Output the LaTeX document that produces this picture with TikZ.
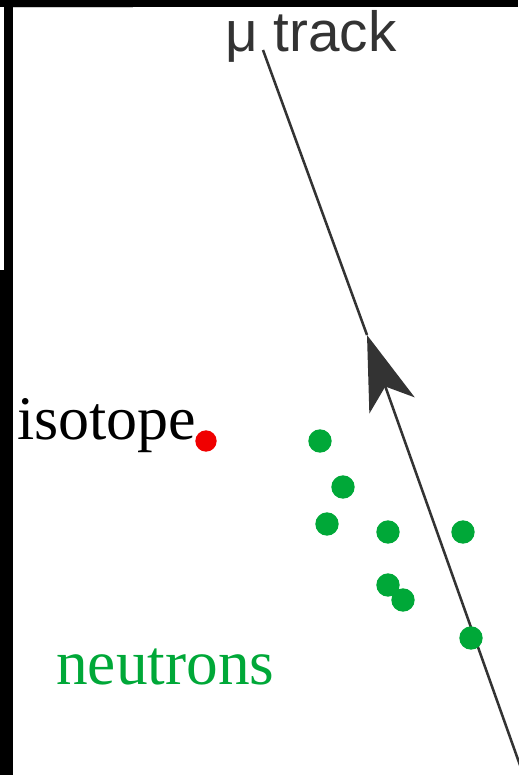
\documentclass[tikz,border=0pt]{standalone}
\usepackage{fontspec}
\setmainfont{Liberation Serif}
\newfontfamily\labsans{Liberation Sans}
\usetikzlibrary{arrows.meta}
\definecolor{dotgreen}{RGB}{0,168,56}
\definecolor{trackgray}{RGB}{51,51,51}
\definecolor{dotred}{RGB}{240,0,0}
\tikzset{
  ndot/.style={circle,fill=dotgreen,inner sep=0pt,minimum size=17.5,draw=none},
  idot/.style={circle,fill=dotred,inner sep=0pt,minimum size=16,draw=none},
  trackline/.style={draw=trackgray,line width=1.9},
  bar/.style={fill=black,draw=none}
}
\begin{document}
\begin{tikzpicture}[x=0.75pt,y=-0.75pt]
\useasboundingbox (0,0) rectangle (518,775);
% frame bars
\fill[bar] (0,0) rectangle (518,7);
\fill[bar] (4,0) rectangle (13,270);
\fill[bar] (0,270) rectangle (13,775);
\draw[gray!40,line width=0.8] (13,7.5) -- (133,7.5);
% track
\coordinate (top) at (263,50);
\coordinate (tip) at (367,335);
\coordinate (bot) at (521,768);
\draw[trackline] (tip) -- (top);
\draw[trackline,-{Stealth[length=56,width=36,inset=15]}] (bot) -- (tip);
\node[anchor=base west,text=trackgray,font=\labsans\fontsize{42.5pt}{42.5pt}\selectfont,inner sep=0pt] (mu) at (225,51) {μ track};
% isotope
\node[anchor=base west,font=\fontsize{46.5pt}{46.5pt}\selectfont,inner sep=0pt] (iso) at (17,439) {isotope};
\node[idot] (red) at (206,441) {};
% neutrons
\node[anchor=base west,text=dotgreen,font=\fontsize{47.5pt}{47.5pt}\selectfont,inner sep=0pt] (neu) at (56,684) {neutrons};
\node[ndot] (n1) at (320,441) {};
\node[ndot] (n2) at (343,487) {};
\node[ndot] (n3) at (327,524) {};
\node[ndot] (n4) at (388,532) {};
\node[ndot] (n5) at (463,532) {};
\node[ndot] (n6) at (388,585) {};
\node[ndot] (n7) at (403,600) {};
\node[ndot] (n8) at (471,638) {};
\end{tikzpicture}
\end{document}
